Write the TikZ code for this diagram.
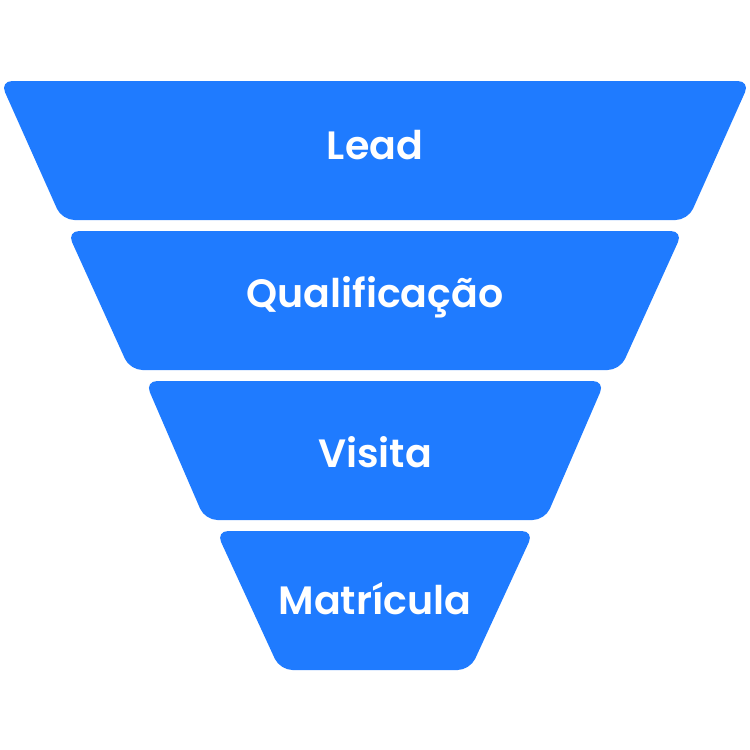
\documentclass[tikz,border=0pt]{standalone}
\usepackage{fontspec}
\setmainfont{Poppins}[BoldFont={* SemiBold}]
\usetikzlibrary{positioning}
\definecolor{funnelblue}{RGB}{31,123,255}

\begin{document}
\begin{tikzpicture}[
        every node/.style={font=\bfseries\fontsize{22.5}{27}\selectfont, text=white},
        tier/.style={fill=funnelblue, rounded corners=7pt}]

      \useasboundingbox (0,0) rectangle (15,-15);

      \fill[tier] (0,-1.62) -- (15,-1.62) -- (13.76,-4.40) -- (1.24,-4.40) -- cycle;
      \fill[tier] (1.34,-4.62) -- (13.66,-4.62) -- (12.40,-7.40) -- (2.60,-7.40) -- cycle;
      \fill[tier] (2.90,-7.62) -- (12.10,-7.62) -- (10.90,-10.40) -- (4.10,-10.40) -- cycle;
      \fill[tier] (4.32,-10.62) -- (10.68,-10.62) -- (9.40,-13.40) -- (5.60,-13.40) -- cycle;

      \node (lead) at (7.5,-2.90) {Lead};
      \node (qual) at (7.5,-5.95) {Qualificação};
      \node (visita) at (7.5,-9.05) {Visita};
      \node (matr) at (7.5,-11.97) {Matrícula};
    \end{tikzpicture}
\end{document}
